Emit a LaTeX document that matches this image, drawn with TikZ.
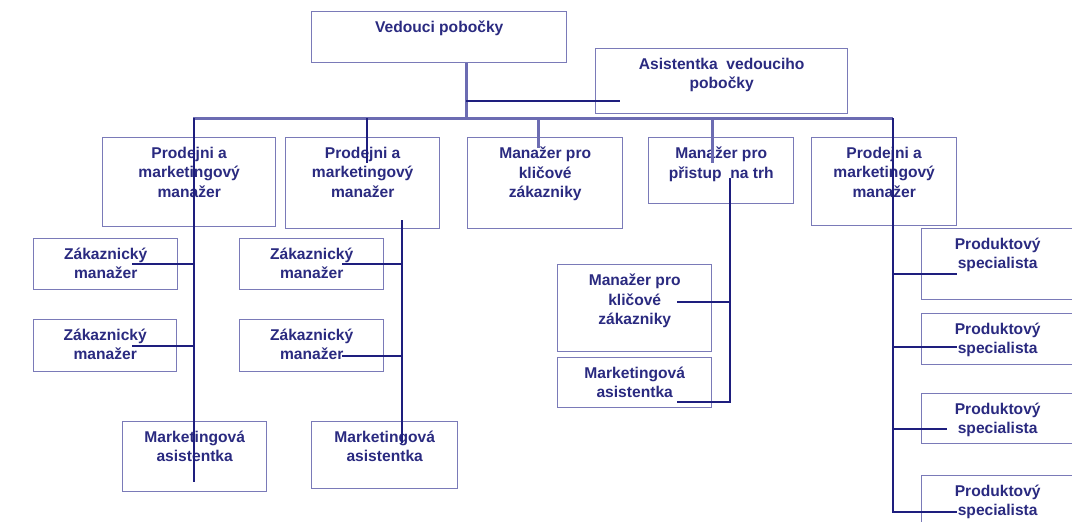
\documentclass[tikz,border=0pt]{standalone}
\usepackage{fontspec}
\setmainfont{Liberation Sans}
\definecolor{navy}{HTML}{1E1E7E}
\definecolor{boxblue}{HTML}{7A7AB8}
\definecolor{buscol}{HTML}{6C6CB2}
\definecolor{txtcol}{HTML}{2A2A80}
\begin{document}
\begin{tikzpicture}[
		x=1pt, y=-1pt,
		box/.style = {draw=boxblue, line width=1.4pt, inner sep=0pt, anchor=north west},
		txt/.style = {font=\fontsize{15.6}{19.7}\selectfont\bfseries, text=txtcol, align=center, inner sep=0pt, anchor=north, yshift=-9.5pt},
		link/.style = {draw=navy, line width=2pt},
		bus/.style = {draw=buscol, line width=3pt}
	]
	\useasboundingbox (0,0) rectangle (1072,522);
	\clip (0,0) rectangle (1072,522);
	% top
	\node[box, minimum width=255, minimum height=51, label={[txt]north:Vedouci pobočky}] (vp) at (311,11) {};
	\node[box, minimum width=252, minimum height=65, label={[txt]north:Asistentka\ \ vedouciho\\pobočky}] (asist) at (595,48) {};
	% second row
	\node[box, minimum width=173, minimum height=89, label={[txt]north:Prodejni a\\marketingový\\manažer}] (pm1) at (102,137) {};
	\node[box, minimum width=154, minimum height=91, label={[txt]north:Prodejni a\\marketingový\\manažer}] (pm2) at (285,137) {};
	\node[box, minimum width=155, minimum height=91, label={[txt]north:Manažer pro\\kličové\\zákazniky}] (mkz) at (467,137) {};
	\node[box, minimum width=145, minimum height=66, label={[txt]north:Manažer pro\\přistup\ \ na trh}] (mpt) at (648,137) {};
	\node[box, minimum width=145, minimum height=88, label={[txt]north:Prodejni a\\marketingový\\manažer}] (pm3) at (811,137) {};
	% lower boxes
	\node[box, minimum width=144, minimum height=51, label={[txt]north:Zákaznický\\manažer}] (zm1) at (33,238) {};
	\node[box, minimum width=143, minimum height=52, label={[txt]north:Zákaznický\\manažer}] (zm2) at (33,319) {};
	\node[box, minimum width=144, minimum height=51, label={[txt]north:Zákaznický\\manažer}] (zm3) at (239,238) {};
	\node[box, minimum width=144, minimum height=52, label={[txt]north:Zákaznický\\manažer}] (zm4) at (239,319) {};
	\node[box, minimum width=144, minimum height=70, label={[txt]north:Marketingová\\asistentka}] (ma1) at (122,421) {};
	\node[box, minimum width=146, minimum height=67, label={[txt]north:Marketingová\\asistentka}] (ma2) at (311,421) {};
	\node[box, minimum width=154, minimum height=87, label={[txt]north:Manažer pro\\kličové\\zákazniky}] (mk2) at (557,264) {};
	\node[box, minimum width=154, minimum height=50, label={[txt]north:Marketingová\\asistentka}] (ma3) at (557,357) {};
	\node[box, minimum width=152, minimum height=71, label={[txt]north:Produktový\\specialista}] (ps1) at (921,228) {};
	\node[box, minimum width=152, minimum height=51, label={[txt]north:Produktový\\specialista}] (ps2) at (921,313) {};
	\node[box, minimum width=152, minimum height=50, label={[txt]north:Produktový\\specialista}] (ps3) at (921,393) {};
	\node[box, minimum width=152, minimum height=65, label={[txt]north:Produktový\\specialista}] (ps4) at (921,475) {};
	% junctions
	\coordinate (hub) at (466,118);
	\coordinate (busL) at (193,118);
	\coordinate (busR) at (893,118);
	\coordinate (asl) at (466,101);
	\coordinate (asr) at (620,101);
	\coordinate (k1) at (538,118);
	\coordinate (k1e) at (538,148);
	\coordinate (t1) at (712,118);
	\coordinate (t1e) at (712,163);
	\coordinate (a1) at (194,118);
	\coordinate (a1e) at (194,482);
	\coordinate (z1e) at (132,264);
	\coordinate (z2e) at (132,346);
	\coordinate (b1) at (367,118);
	\coordinate (b1e) at (367,163);
	\coordinate (b2) at (402,220);
	\coordinate (b2e) at (402,443);
	\coordinate (z3e) at (342,264);
	\coordinate (z4e) at (342,356);
	\coordinate (m1) at (730,178);
	\coordinate (m1e) at (677,302);
	\coordinate (m2e) at (677,402);
	\coordinate (pend) at (893,513);
	\coordinate (p1e) at (957,274);
	\coordinate (p2e) at (957,347);
	\coordinate (p3e) at (947,429);
	\coordinate (p4e) at (957,512);
	% lines
	\draw[bus] (vp.south -| hub) -- (hub);
	\draw[link] (asl) -- (asr);
	\draw[bus] (busL) -- (busR);
	\draw[bus] (k1) -- (k1e);
	\draw[bus] (t1) -- (t1e);
	\draw[link] (b1) -- (b1e);
	\draw[link] (a1) -- (a1e);
	\draw[link] (a1) |- (z1e);
	\draw[link] (a1) |- (z2e);
	\draw[link] (b2) -- (b2e);
	\draw[link] (b2) |- (z3e);
	\draw[link] (b2) |- (z4e);
	\draw[link] (m1) |- (m1e);
	\draw[link] (m1) |- (m2e);
	\draw[link] (busR) -- (pend);
	\foreach \p in {p1e,p2e,p3e,p4e}
		\draw[link] (busR) |- (\p);
\end{tikzpicture}
\end{document}
